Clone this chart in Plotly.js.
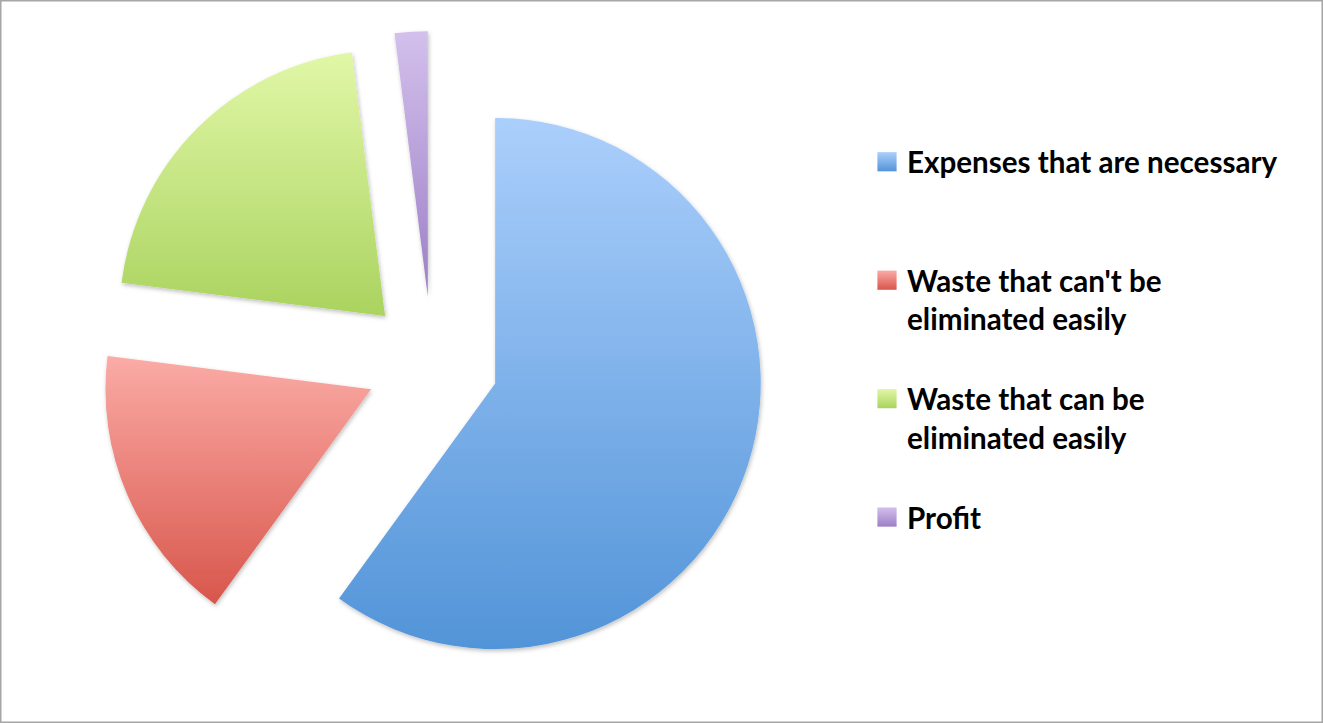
<!DOCTYPE html>
<html>
<head>
<meta charset="utf-8">
<script src="https://cdn.plot.ly/plotly-3.0.1.min.js"></script>
<style>
  body { margin: 0; background: #fff; }
  #chart { width: 1323px; height: 723px; }
</style>
</head>
<body>
<div id="chart"></div>
<script>
var labels = [
  'Expenses that are necessary',
  "Waste that can't be eliminated easily",
  'Waste that can be eliminated easily',
  'Profit'
];
// how the legend breaks the long names (blank lines keep the items apart)
var legendLabels = [
  'Expenses that are necessary<br>\u00a0<br>\u00a0',
  "Waste that can't be<br>eliminated easily<br>\u00a0",
  'Waste that can be<br>eliminated easily<br>\u00a0',
  'Profit'
];
var values = [60, 17, 21, 2];
var baseColors = ['#7fb0ea', '#ec8179', '#c6e583', '#bba4dc'];
var topColors = ['#abcffc', '#fbaba6', '#e1f7a7', '#d3c0ec'];
var bottomColors = ['#5294d8', '#d8564b', '#aad35f', '#9c7fc6'];

var trace = {
  type: 'pie',
  labels: legendLabels,
  values: values,
  sort: false,
  direction: 'clockwise',
  rotation: 0,
  pull: [0.25, 0.25, 0.25, 0.25],
  textinfo: 'none',
  hoverinfo: 'skip',
  marker: { colors: baseColors, line: { width: 0 } },
  domain: { x: [100 / 1323, 764 / 1323], y: [1 - 695 / 723, 1 - 31 / 723] }
};

var layout = {
  width: 1323,
  height: 723,
  margin: { l: 0, r: 0, t: 0, b: 0 },
  paper_bgcolor: '#ffffff',
  showlegend: true,
  legend: {
    x: 867 / 1323, y: 1 - 136 / 723,
    xanchor: 'left', yanchor: 'top',
    valign: 'top',
    maxheight: 700,
    bgcolor: 'rgba(0,0,0,0)',
    font: { family: 'Lato, sans-serif', size: 29.6, color: '#000000', weight: 'bold' }
  },
  shapes: [{
    type: 'rect', xref: 'paper', yref: 'paper',
    x0: 0, x1: 1, y0: 0, y1: 1,
    line: { color: '#a6a6a6', width: 3 }
  }]
};

Plotly.newPlot('chart', [trace], layout, { staticPlot: true }).then(function (gd) {
  var ns = 'http://www.w3.org/2000/svg';
  var svg = gd.querySelector('.main-svg');
  var defs = svg.querySelector('defs');

  // vertical gradient per slice, light at top, darker at bottom
  labels.forEach(function (name, i) {
    var grad = document.createElementNS(ns, 'linearGradient');
    grad.setAttribute('id', 'grad' + i);
    grad.setAttribute('x1', '0'); grad.setAttribute('y1', '0');
    grad.setAttribute('x2', '0'); grad.setAttribute('y2', '1');
    [[0, topColors[i]], [1, bottomColors[i]]].forEach(function (s) {
      var stop = document.createElementNS(ns, 'stop');
      stop.setAttribute('offset', s[0]);
      stop.setAttribute('stop-color', s[1]);
      grad.appendChild(stop);
    });
    defs.appendChild(grad);
  });

  var filter = document.createElementNS(ns, 'filter');
  filter.setAttribute('id', 'sliceShadow');
  filter.setAttribute('x', '-10%'); filter.setAttribute('y', '-10%');
  filter.setAttribute('width', '125%'); filter.setAttribute('height', '125%');
  var drop = document.createElementNS(ns, 'feDropShadow');
  drop.setAttribute('dx', '1'); drop.setAttribute('dy', '2');
  drop.setAttribute('stdDeviation', '2');
  drop.setAttribute('flood-color', '#000');
  drop.setAttribute('flood-opacity', '0.25');
  filter.appendChild(drop);
  defs.appendChild(filter);

  gd.querySelectorAll('.slice path.surface').forEach(function (p, i) {
    p.style.fill = 'url(#grad' + i + ')';
    p.setAttribute('filter', 'url(#sliceShadow)');
  });
  // bigger legend squares, as in the original
  gd.querySelectorAll('.legendpoints path').forEach(function (p, i) {
    p.style.fill = 'url(#grad' + i + ')';
    var t = p.getAttribute('transform') || '';
    p.setAttribute('transform', t + ' scale(1.6)');
  });
});
</script>
</body>
</html>
